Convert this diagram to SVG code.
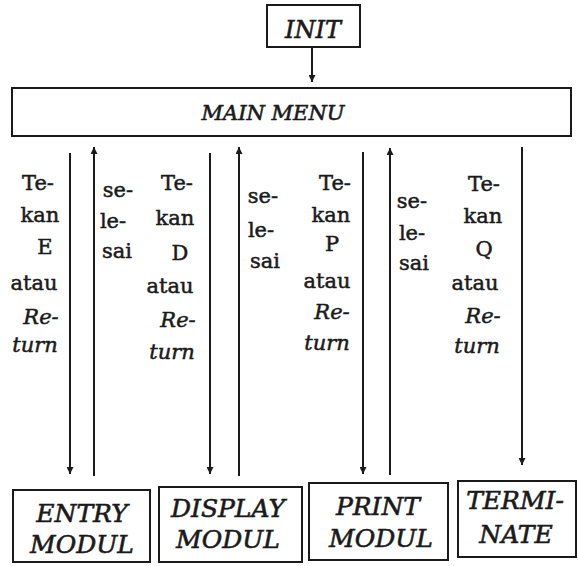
<svg xmlns="http://www.w3.org/2000/svg" width="578" height="566" viewBox="0 0 578 566">
  <style>
    .box { fill: #fff; stroke: #1a1a1a; stroke-width: 2; }
    .line { stroke: #1a1a1a; stroke-width: 2; fill: none; }
    .title { font-family: "DejaVu Serif", "Liberation Serif", serif; font-style: italic; fill: #1a1a1a; stroke: #1a1a1a; stroke-width: 0.6; text-anchor: middle; }
    .lbl { font-family: "DejaVu Serif", "Liberation Serif", serif; font-size: 21px; fill: #1a1a1a; stroke: #1a1a1a; stroke-width: 0.5; text-anchor: middle; }
    .it { font-style: italic; }
  </style>
  <defs>
    <marker id="arrow" viewBox="0 0 10 10" refX="10" refY="5" markerWidth="7" markerHeight="7" orient="auto" markerUnits="userSpaceOnUse">
      <path d="M0,0 L10,5 L0,10 z" fill="#1a1a1a"/>
    </marker>
  </defs>

  <rect width="578" height="566" fill="#fff"/>

  <!-- top nodes -->
  <g id="init">
    <rect class="box" x="267" y="5" width="93" height="42"/>
    <text class="title" x="313" y="38" font-size="24">INIT</text>
  </g>
  <g id="main-menu">
    <rect class="box" x="12" y="88" width="559" height="48"/>
    <text class="title" x="273" y="120" font-size="21">MAIN MENU</text>
  </g>

  <!-- module nodes -->
  <g id="entry-modul">
    <rect class="box" x="13" y="490" width="137" height="72"/>
    <text class="title" x="82" y="522" font-size="25">ENTRY</text>
    <text class="title" x="82" y="553" font-size="25">MODUL</text>
  </g>
  <g id="display-modul">
    <rect class="box" x="159" y="487" width="143" height="75"/>
    <text class="title" x="228" y="517" font-size="25">DISPLAY</text>
    <text class="title" x="228" y="548" font-size="25">MODUL</text>
  </g>
  <g id="print-modul">
    <rect class="box" x="309" y="483" width="139" height="77"/>
    <text class="title" x="378" y="515" font-size="25">PRINT</text>
    <text class="title" x="381" y="547" font-size="25">MODUL</text>
  </g>
  <g id="terminate">
    <rect class="box" x="458" y="481" width="118" height="76"/>
    <text class="title" x="515" y="509" font-size="25">TERMI-</text>
    <text class="title" x="516" y="543" font-size="25">NATE</text>
  </g>

  <!-- connectors -->
  <g id="connectors">
    <line class="line" x1="312" y1="47" x2="312" y2="82" marker-end="url(#arrow)"/>
    <line class="line" x1="70" y1="153" x2="70" y2="474" marker-end="url(#arrow)"/>
    <line class="line" x1="94" y1="476" x2="94" y2="147" marker-end="url(#arrow)"/>
    <line class="line" x1="210" y1="153" x2="210" y2="474" marker-end="url(#arrow)"/>
    <line class="line" x1="239" y1="476" x2="239" y2="147" marker-end="url(#arrow)"/>
    <line class="line" x1="363" y1="152" x2="363" y2="474" marker-end="url(#arrow)"/>
    <line class="line" x1="390" y1="475" x2="390" y2="148" marker-end="url(#arrow)"/>
    <line class="line" x1="522" y1="147" x2="522" y2="465" marker-end="url(#arrow)"/>
  </g>

  <!-- connector labels -->
  <g id="label-e">
    <text class="lbl" x="38" y="190">Te-</text>
    <text class="lbl" x="40" y="222">kan</text>
    <text class="lbl" x="45" y="254">E</text>
    <text class="lbl" x="34" y="290">atau</text>
    <text class="lbl it" x="41" y="324">Re-</text>
    <text class="lbl it" x="35" y="352">turn</text>
  </g>
  <g id="label-selesai-1">
    <text class="lbl" x="118" y="197">se-</text>
    <text class="lbl" x="113" y="228">le-</text>
    <text class="lbl" x="117" y="258">sai</text>
  </g>
  <g id="label-d">
    <text class="lbl" x="177" y="190">Te-</text>
    <text class="lbl" x="175" y="225">kan</text>
    <text class="lbl" x="180" y="260">D</text>
    <text class="lbl" x="170" y="293">atau</text>
    <text class="lbl it" x="178" y="327">Re-</text>
    <text class="lbl it" x="172" y="359">turn</text>
  </g>
  <g id="label-selesai-2">
    <text class="lbl" x="263" y="203">se-</text>
    <text class="lbl" x="261" y="237">le-</text>
    <text class="lbl" x="265" y="268">sai</text>
  </g>
  <g id="label-p">
    <text class="lbl" x="335" y="190">Te-</text>
    <text class="lbl" x="331" y="222">kan</text>
    <text class="lbl" x="332" y="251">P</text>
    <text class="lbl" x="327" y="288">atau</text>
    <text class="lbl it" x="332" y="319">Re-</text>
    <text class="lbl it" x="327" y="350">turn</text>
  </g>
  <g id="label-selesai-3">
    <text class="lbl" x="412" y="208">se-</text>
    <text class="lbl" x="412" y="240">le-</text>
    <text class="lbl" x="414" y="270">sai</text>
  </g>
  <g id="label-q">
    <text class="lbl" x="484" y="191">Te-</text>
    <text class="lbl" x="483" y="223">kan</text>
    <text class="lbl" x="484" y="256">Q</text>
    <text class="lbl" x="475" y="290">atau</text>
    <text class="lbl it" x="483" y="323">Re-</text>
    <text class="lbl it" x="477" y="353">turn</text>
  </g>
</svg>
